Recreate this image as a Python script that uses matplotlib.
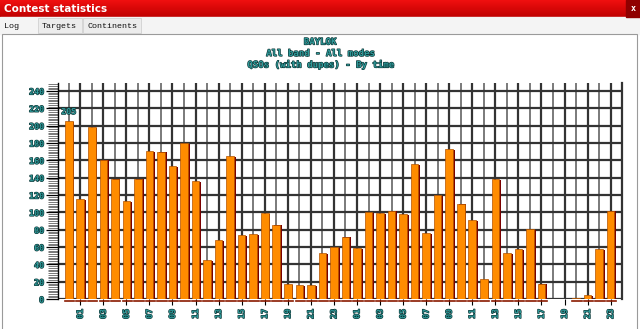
import numpy as np
import matplotlib
matplotlib.use("Agg")
import matplotlib.pyplot as plt
import matplotlib.patheffects as pe
from matplotlib.patches import Rectangle
from matplotlib.ticker import MultipleLocator
from matplotlib.colors import LinearSegmentedColormap

# ---- data ----
hours = ["00", "01", "02", "03", "04", "05", "06", "07", "08", "09", "10", "11",
         "12", "13", "14", "15", "16", "17", "18", "19", "20", "21", "22", "23",
         "00", "01", "02", "03", "04", "05", "06", "07", "08", "09", "10", "11",
         "12", "13", "14", "15", "16", "17", "18", "19", "20", "21", "22", "23"]
qsos = [205, 115, 198, 161, 139, 113, 139, 171, 170, 153, 180, 136,
        45, 68, 165, 74, 75, 99, 86, 17, 16, 16, 53, 60,
        72, 59, 100, 99, 102, 98, 156, 76, 120, 173, 110, 91,
        23, 138, 53, 58, 81, 18, 0, 0, 1, 5, 58, 102]
title_lines = ["BAYLOK", "All band - All modes", "QSOs (with dupes) - By time"]
window_title = "Contest statistics"
tabs = ["Log", "Targets", "Continents"]

W, H = 640, 329
fig = plt.figure(figsize=(W / 100, H / 100), dpi=100)
fig.patch.set_facecolor("white")

# ---- window chrome ----
bg = fig.add_axes([0, 0, 1, 1], zorder=-5)
bg.set_xlim(0, W)
bg.set_ylim(H, 0)
bg.axis("off")
grad = np.linspace(0, 1, 32).reshape(-1, 1)
cm = LinearSegmentedColormap.from_list("rb", ["#f01010", "#c00000"])
bg.imshow(grad, cmap=cm, extent=(0, W, 17, 0), aspect="auto", zorder=0)
bg.add_patch(Rectangle((626, 0), 14, 17, color="#900000", zorder=1))
bg.text(633, 8.5, "x", color="white", fontsize=6, ha="center", va="center",
        family="DejaVu Sans Mono", fontweight="bold", zorder=2)
bg.text(4, 8.5, window_title, color="white", fontsize=7.5, fontweight="bold",
        ha="left", va="center", family="DejaVu Sans", zorder=2)
# tab strip
bg.add_patch(Rectangle((0, 17), W, 17, color="#f4f4f4", zorder=0))
bg.add_patch(Rectangle((38, 18), 44, 15, facecolor="#ececec", edgecolor="#d0d0d0", lw=0.6, zorder=1))
bg.add_patch(Rectangle((83, 18), 58, 15, facecolor="#ececec", edgecolor="#d0d0d0", lw=0.6, zorder=1))
tab_x = [4, 42, 87]
for tx, t in zip(tab_x, tabs):
    bg.text(tx, 26, t, fontsize=6, family="Liberation Mono", color="#111111",
            ha="left", va="center", zorder=2)
# chart panel
bg.add_patch(Rectangle((2, 34), 635, 300, facecolor="white", edgecolor="#9a9a9a", lw=0.8, zorder=1))

# ---- chart ----
TEAL = "#2f9a9a"
peff = [pe.withStroke(linewidth=0.9, foreground="#0c3333")]
tfont = dict(family="DejaVu Sans Mono", fontweight="bold", color=TEAL, path_effects=peff)

for i, line in enumerate(title_lines):
    fig.text(320 / W, 1 - (42 + 11.5 * i) / H, line, ha="center", va="center",
             fontsize=6.5, **tfont)

ax = fig.add_axes([58 / W, (H - 299.2) / H, (621.7 - 58) / W, (299.2 - 83) / H])
ax.set_facecolor("white")
x = np.arange(len(qsos))
vals = np.array(qsos, dtype=float)
ax.set_xlim(-0.93, 47.96)
ax.set_ylim(0, 249.2)

# grid
for xi in x:
    if xi % 2 == 1:
        ax.axvline(xi, color="#333333", lw=1.6, zorder=0)
    else:
        ax.axvline(xi, color="#707070", lw=1.3, zorder=0)
ax.axvline(47.96, color="#333333", lw=1.6, zorder=0, clip_on=False)
for yv in range(20, 241, 20):
    ax.axhline(yv, color="#333333", lw=1.6, zorder=0)
ax.axhline(0, color="#333333", lw=1.6, zorder=0)

# bars with 3D shadow
bw = 0.66
ax.bar(x + 0.16, np.maximum(vals - 0.8, 0), width=bw, color="#7a0000", zorder=2)
ax.bar(x, vals, width=bw, color="#ff8c00", edgecolor="#b35300", lw=0.5, zorder=3)
for xi, v in zip(x, vals):
    if v > 0:
        ax.plot([xi - bw / 2, xi + bw / 2 + 0.16], [-1.5, -1.5], color="#8a1a00",
                lw=1.2, clip_on=False, zorder=3)

imax = int(np.argmax(vals))
ax.annotate(f"{int(vals[imax])}", (x[imax], vals[imax]), xytext=(0, 7),
            textcoords="offset points", ha="center", va="center", fontsize=6, **tfont)

for s in ["top", "right", "bottom"]:
    ax.spines[s].set_visible(False)
ax.spines["left"].set_color("black")
ax.spines["left"].set_linewidth(1.0)

ax.set_xticks(x[1::2])
ax.set_xticklabels([hours[i] for i in x[1::2]], rotation=90, fontsize=6, **tfont)
ax.tick_params(axis="x", length=4, width=0.8, color="black", pad=3)

ax.yaxis.set_major_locator(MultipleLocator(20))
ax.yaxis.set_minor_locator(MultipleLocator(2))
ax.set_yticks(range(0, 241, 20))
ax.set_yticklabels([str(v) for v in range(0, 241, 20)], fontsize=6, **tfont)
ax.tick_params(axis="y", which="major", length=9, width=0.9, color="black", pad=1)
ax.tick_params(axis="y", which="minor", length=7, width=0.5, color="#444444")

fig.savefig("out.png", dpi=100)
